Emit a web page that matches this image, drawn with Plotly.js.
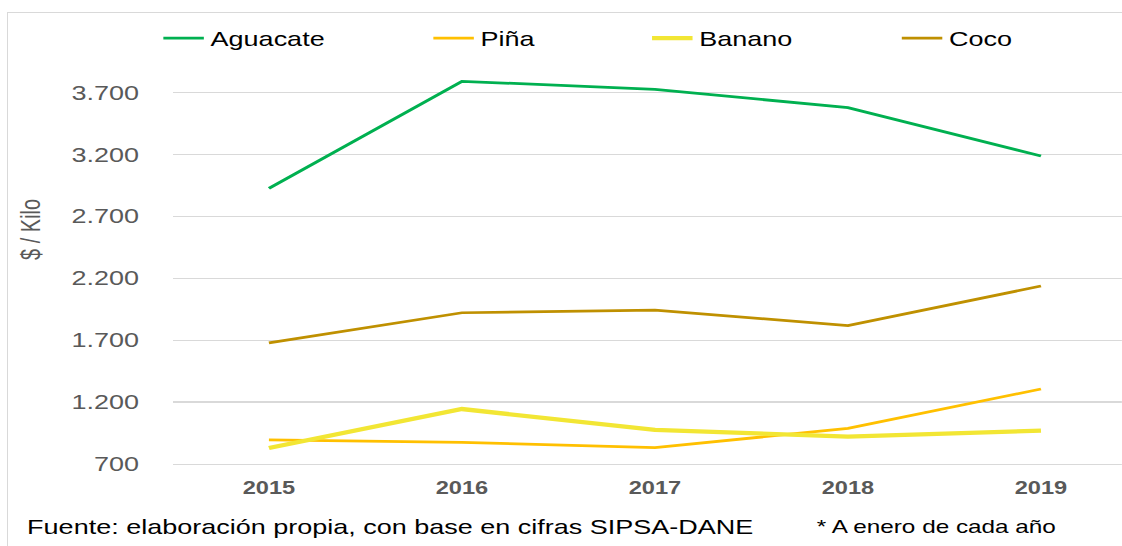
<!DOCTYPE html>
<html><head><meta charset="utf-8">
<script src="https://cdn.plot.ly/plotly-3.0.1.min.js"></script>
<style>
html,body{margin:0;padding:0;background:#fff;overflow:hidden;}
#wrap{position:relative;width:1122px;height:546px;overflow:hidden;background:#fff;}
#chart{width:831px;height:546px;transform:scaleX(1.35);transform-origin:0 0;}
#frame{position:absolute;left:7px;top:12px;width:1200px;height:600px;border-left:1px solid #d9d9d9;border-top:1px solid #d9d9d9;pointer-events:none;}
</style></head>
<body><div id="wrap"><div id="chart"></div><div id="frame"></div></div>
<script>
// ---- data ----
const years = ['2015', '2016', '2017', '2018', '2019'];
const seriesNames = ['Aguacate', 'Piña', 'Banano', 'Coco'];
const aguacate = [2927, 3792, 3727, 3579, 3188];
const pina = [894, 875, 832, 988, 1306];
const banano = [829, 1144, 975, 921, 969];
const coco = [1678, 1922, 1944, 1818, 2138];
const yTicks = [700, 1200, 1700, 2200, 2700, 3200, 3700];
const yAxisTitle = '$ / Kilo';
const sourceNote = 'Fuente: elaboración propia, con base en cifras SIPSA-DANE';
const dateNote = '* A enero de cada año';

// ---- style ----
const FONT = 'Liberation Sans, Arial, sans-serif';
const W = 831, H = 546;
const M = {l: 128, r: 0, t: 60, b: 82};
const px2x = p => (p - M.l) / (W - M.l - M.r);
const py2y = p => (H - M.b - p) / (H - M.t - M.b);

const colors = ['#00B050', '#FFC000', '#F2E634', '#BF9000'];
const widths = [2.75, 2.75, 4.25, 2.75];
const values = [aguacate, pina, banano, coco];
const legendIds = ['legend', 'legend2', 'legend3', 'legend4'];
const legendLeftPx = [116, 316, 478, 663];

const traces = seriesNames.map((n, i) => ({
  type: 'scatter', mode: 'lines', name: n, x: years, y: values[i],
  line: {color: colors[i], width: widths[i]},
  legend: legendIds[i], hoverinfo: 'x+y+name'
}));

const layout = {
  width: W, height: H, margin: M,
  paper_bgcolor: '#fff', plot_bgcolor: '#fff',
  separators: ',.',
  font: {family: FONT, color: '#595959'},
  showlegend: true,
  xaxis: {
    type: 'category', range: [-0.498, 4.419],
    showgrid: false, zeroline: false,
    showline: true, linecolor: '#d9d9d9', linewidth: 1.3,
    ticks: 'outside', ticklen: 8, tickcolor: 'rgba(0,0,0,0)',
    tickfont: {family: FONT, size: 17.5, color: '#595959', weight: 'bold'}
  },
  yaxis: {
    range: [700, 3964], tickmode: 'array', tickvals: yTicks, tickformat: ',d',
    showgrid: true, gridcolor: '#d9d9d9', gridwidth: 1.3,
    zeroline: false, showline: false,
    ticks: 'outside', ticklen: 20, tickcolor: 'rgba(0,0,0,0)',
    tickfont: {family: FONT, size: 20, color: '#595959'}
  },
  annotations: [
    {text: yAxisTitle, textangle: -90, xref: 'paper', yref: 'paper',
     x: px2x(23), y: py2y(229), xanchor: 'center', yanchor: 'middle', showarrow: false,
     font: {family: FONT, size: 20, color: '#595959'}},
    {text: sourceNote, xref: 'paper', yref: 'paper',
     x: px2x(18), y: py2y(527), xanchor: 'left', yanchor: 'middle', showarrow: false,
     font: {family: FONT, size: 20, color: '#000'}},
    {text: dateNote, xref: 'paper', yref: 'paper',
     x: px2x(603), y: py2y(527), xanchor: 'left', yanchor: 'middle', showarrow: false,
     font: {family: FONT, size: 18, color: '#000'}}
  ]
};
legendIds.forEach((id, i) => {
  layout[id] = {
    orientation: 'h', x: px2x(legendLeftPx[i]), y: py2y(38),
    xanchor: 'left', yanchor: 'middle', bgcolor: 'rgba(0,0,0,0)',
    font: {family: FONT, size: 20, color: '#000'}
  };
});

Plotly.newPlot('chart', traces, layout, {displayModeBar: false, staticPlot: true});
</script>
</body></html>
